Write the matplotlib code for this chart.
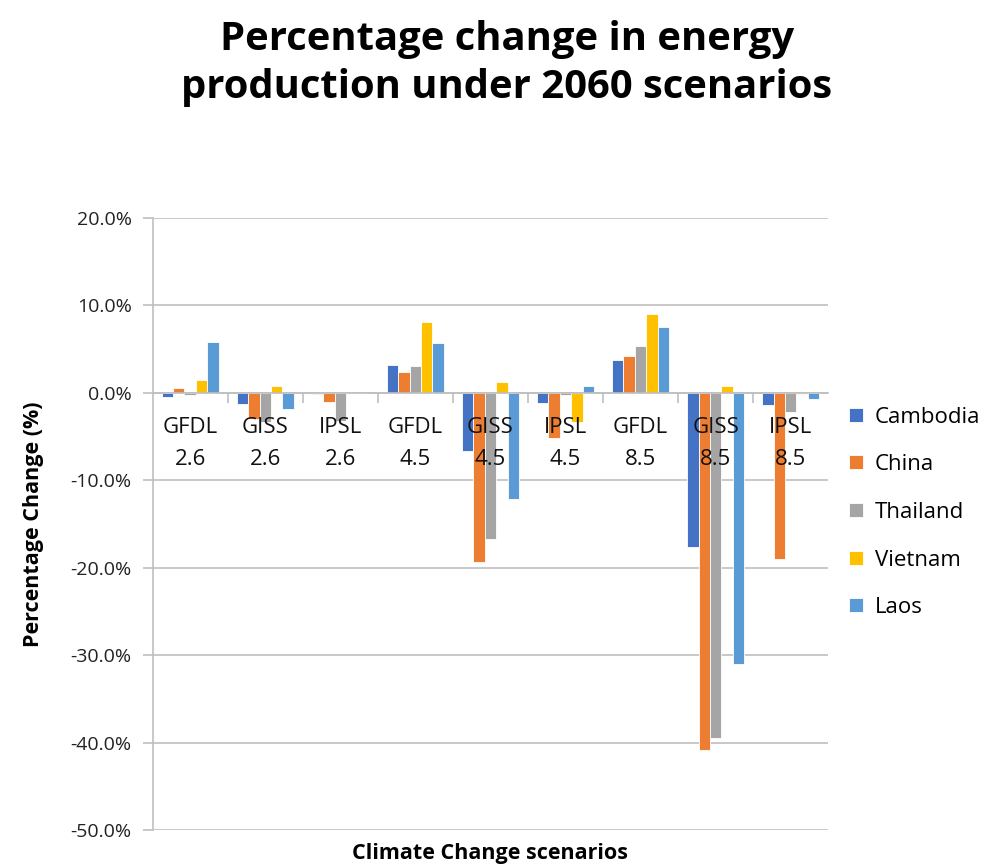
import matplotlib
matplotlib.use('Agg')
import matplotlib.pyplot as plt
import numpy as np
from matplotlib.ticker import FuncFormatter

scenarios = ['GFDL\n2.6', 'GISS\n2.6', 'IPSL\n2.6',
             'GFDL\n4.5', 'GISS\n4.5', 'IPSL\n4.5',
             'GFDL\n8.5', 'GISS\n8.5', 'IPSL\n8.5']
countries = ['Cambodia', 'China', 'Thailand', 'Vietnam', 'Laos']

# percentage change per country, one value per scenario
cambodia = [-0.46, -1.30, -0.10, 3.20, -6.70, -1.14, 3.73, -17.60, -1.45]
china = [0.53, -2.97, -1.07, 2.36, -19.40, -5.20, 4.19, -40.80, -19.04]
thailand = [-0.23, -3.30, -3.20, 3.09, -16.70, -0.30, 5.33, -39.50, -2.21]
vietnam = [1.41, 0.80, 0.00, 8.08, 1.22, -3.30, 8.99, 0.72, -0.10]
laos = [5.75, -1.87, 0.00, 5.64, -12.15, 0.72, 7.47, -31.07, -0.69]

series = [cambodia, china, thailand, vietnam, laos]
colors = ['#4472C4', '#ED7D31', '#A5A5A5', '#FFC000', '#5B9BD5']
grid_c = '#BFBFBF'

plt.rcParams['font.family'] = ['Open Sans', 'DejaVu Sans']

fig = plt.figure(figsize=(10.04, 8.67), dpi=100)
ax = fig.add_axes([0.152, 0.0427, 0.673, 0.706])

x = np.arange(len(scenarios))
w = 0.152
for k, (vals, c, name) in enumerate(zip(series, colors, countries)):
    ax.bar(x + (k - 2) * w, vals, width=w, color=c, edgecolor='white',
           linewidth=0.6, label=name, zorder=3)

ax.set_xlim(-0.5, len(scenarios) - 0.5)
ax.set_ylim(-50, 20)
ax.set_yticks(np.arange(-50, 21, 10))
ax.yaxis.set_major_formatter(FuncFormatter(lambda v, p: f'{v:.1f}%'))
ax.yaxis.grid(True, color=grid_c, linewidth=1.2, zorder=0)
ax.set_axisbelow(True)

# category axis crosses at zero, tick marks between categories
ax.spines['bottom'].set_position(('data', 0))
ax.spines['bottom'].set_color(grid_c)
ax.spines['bottom'].set_linewidth(1.2)
ax.spines['bottom'].set_zorder(4)
ax.set_xticks(np.arange(0.5, len(scenarios) - 1, 1))
ax.set_xticklabels([])
ax.tick_params(axis='x', direction='out', length=7, color=grid_c, width=1.2)
ax.spines['left'].set_color(grid_c)
ax.spines['left'].set_linewidth(1.2)
ax.tick_params(axis='y', direction='out', length=7, color=grid_c, width=1.2,
               labelsize=14, pad=8, labelcolor='#222222')
ax.spines['top'].set_visible(False)
ax.spines['right'].set_visible(False)

for i, lab in enumerate(scenarios):
    ax.text(i, 0.675, lab, transform=ax.get_xaxis_transform(), ha='center',
            va='top', fontsize=16, linespacing=1.7, color='#111111', zorder=6)

ax.set_ylabel('Percentage Change (%)', fontsize=15.5, fontweight='bold')
ax.yaxis.set_label_coords(-0.16, 0.5)
fig.text(0.488, 0.016, 'Climate Change scenarios', ha='center', va='center',
         fontsize=15.5, fontweight='bold')

fig.suptitle('Percentage change in energy\nproduction under 2060 scenarios',
             x=0.505, y=0.977, fontsize=28.8, fontweight='bold', linespacing=1.3)

fig.legend(loc='center left', bbox_to_anchor=(0.826, 0.409), frameon=False,
           fontsize=16, handlelength=0.6, handleheight=0.6, handletextpad=0.55,
           labelspacing=1.2)

fig.savefig('out.png', dpi=100)
